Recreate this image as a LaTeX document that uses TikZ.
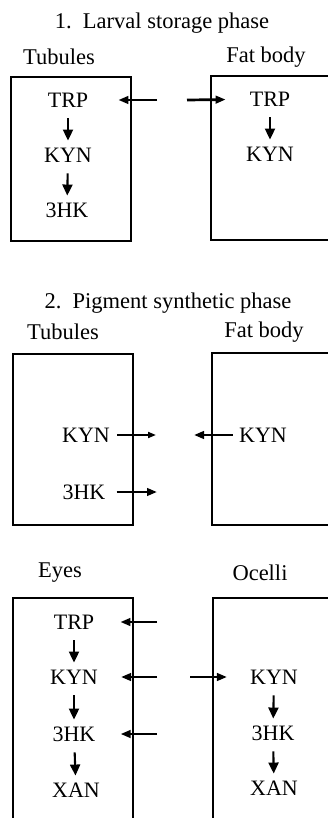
\documentclass[tikz,border=0pt]{standalone}
\usepackage{fontspec}
\setmainfont{Liberation Serif}
\usetikzlibrary{arrows.meta}

\tikzset{
  head/.style={font=\fontsize{22.5}{26}\selectfont, inner sep=0pt},
  lbl/.style={font=\fontsize{22}{26}\selectfont, inner sep=2pt, text height=14.5pt, text depth=0pt},
  organ/.style={line width=1.5pt},
  move/.style={line width=2.7pt, -{Triangle[length=10pt,width=7.5pt]}},
  movethin/.style={line width=1.9pt, -{Triangle[length=8pt,width=6pt]}},
  conv/.style={line width=2.1pt, -{Triangle[length=11pt,width=10pt]}, shorten <=9pt, shorten >=5pt}
}

\begin{document}
\begin{tikzpicture}[x=1pt,y=-1pt]

% Picture frame
\useasboundingbox (0,0) rectangle (328,818);
\clip (0,0) rectangle (328,818);

% 1. Larval storage phase
\node[head] (phA) at (162,23) {1.\ \ Larval storage phase};
\node[head] (tubA) at (59,57) {Tubules};
\node[head] (fatA) at (266,57) {Fat body};
\draw[organ] (11,77) rectangle (131,241);
\draw[organ] (211,76) rectangle (340,240);

\node[lbl] (trpA) at (68,100) {TRP};
\node[lbl] (kynA) at (68,155) {KYN};
\node[lbl] (hkA) at (67,210) {3HK};
\node[lbl] (trpB) at (270,99) {TRP};
\node[lbl] (kynB) at (270,154) {KYN};

\coordinate (inA) at (157,100);
\coordinate (outA) at (187,100);

\draw[conv] (trpA) -- (kynA);
\draw[conv] (kynA) -- (hkA);
\draw[conv] (trpB) -- (kynB);
\draw[move, shorten >=28pt] (inA) -- (trpA);
\draw[move, shorten >=22pt] (outA) -- (trpB);

% 2. Pigment synthetic phase
\node[head] (phB) at (168,303) {2.\ \ Pigment synthetic phase};
\node[head] (tubB) at (63,332) {Tubules};
\node[head] (fatB) at (264,332) {Fat body};
\draw[organ] (13,354) rectangle (133,525);
\draw[organ] (212,353) rectangle (340,525);

\node[lbl] (kynC) at (86,435) {KYN};
\node[lbl] (hkC) at (84,492) {3HK};
\node[lbl] (kynD) at (263,435) {KYN};

\coordinate (exC) at (156,435);
\coordinate (exH) at (157,492);
\coordinate (exD) at (194,435);

\draw[movethin, shorten <=5pt] (kynC) -- (exC);
\draw[move, shorten <=9pt] (hkC) -- (exH);
\draw[move, shorten <=4pt] (kynD) -- (exD);

% Eyes and ocelli
\node[head] (eyeE) at (60,573) {Eyes};
\node[head] (ocF) at (260,573) {Ocelli};
\draw[organ] (13,598) rectangle (133,900);
\draw[organ] (213,598) rectangle (340,900);

\node[lbl] (trpE) at (74,622) {TRP};
\node[lbl] (kynE) at (74,677) {KYN};
\node[lbl] (hkE) at (74,734) {3HK};
\node[lbl] (xanE) at (76,790) {XAN};
\node[lbl] (kynF) at (274,677) {KYN};
\node[lbl] (hkF) at (273,733) {3HK};
\node[lbl] (xanF) at (274,788) {XAN};

\coordinate (inT) at (157,622);
\coordinate (inK) at (157,677);
\coordinate (inH) at (157,734);
\coordinate (outK) at (190,677);

\draw[conv] (trpE) -- (kynE);
\draw[conv] (kynE) -- (hkE);
\draw[conv] (hkE) -- (xanE);
\draw[conv] (kynF) -- (hkF);
\draw[conv] (hkF) -- (xanF);
\draw[move, shorten >=24pt] (inT) -- (trpE);
\draw[move, shorten >=21pt] (inK) -- (kynE);
\draw[move, shorten >=23pt] (inH) -- (hkE);
\draw[move, shorten >=21pt] (outK) -- (kynF);

\end{tikzpicture}
\end{document}
